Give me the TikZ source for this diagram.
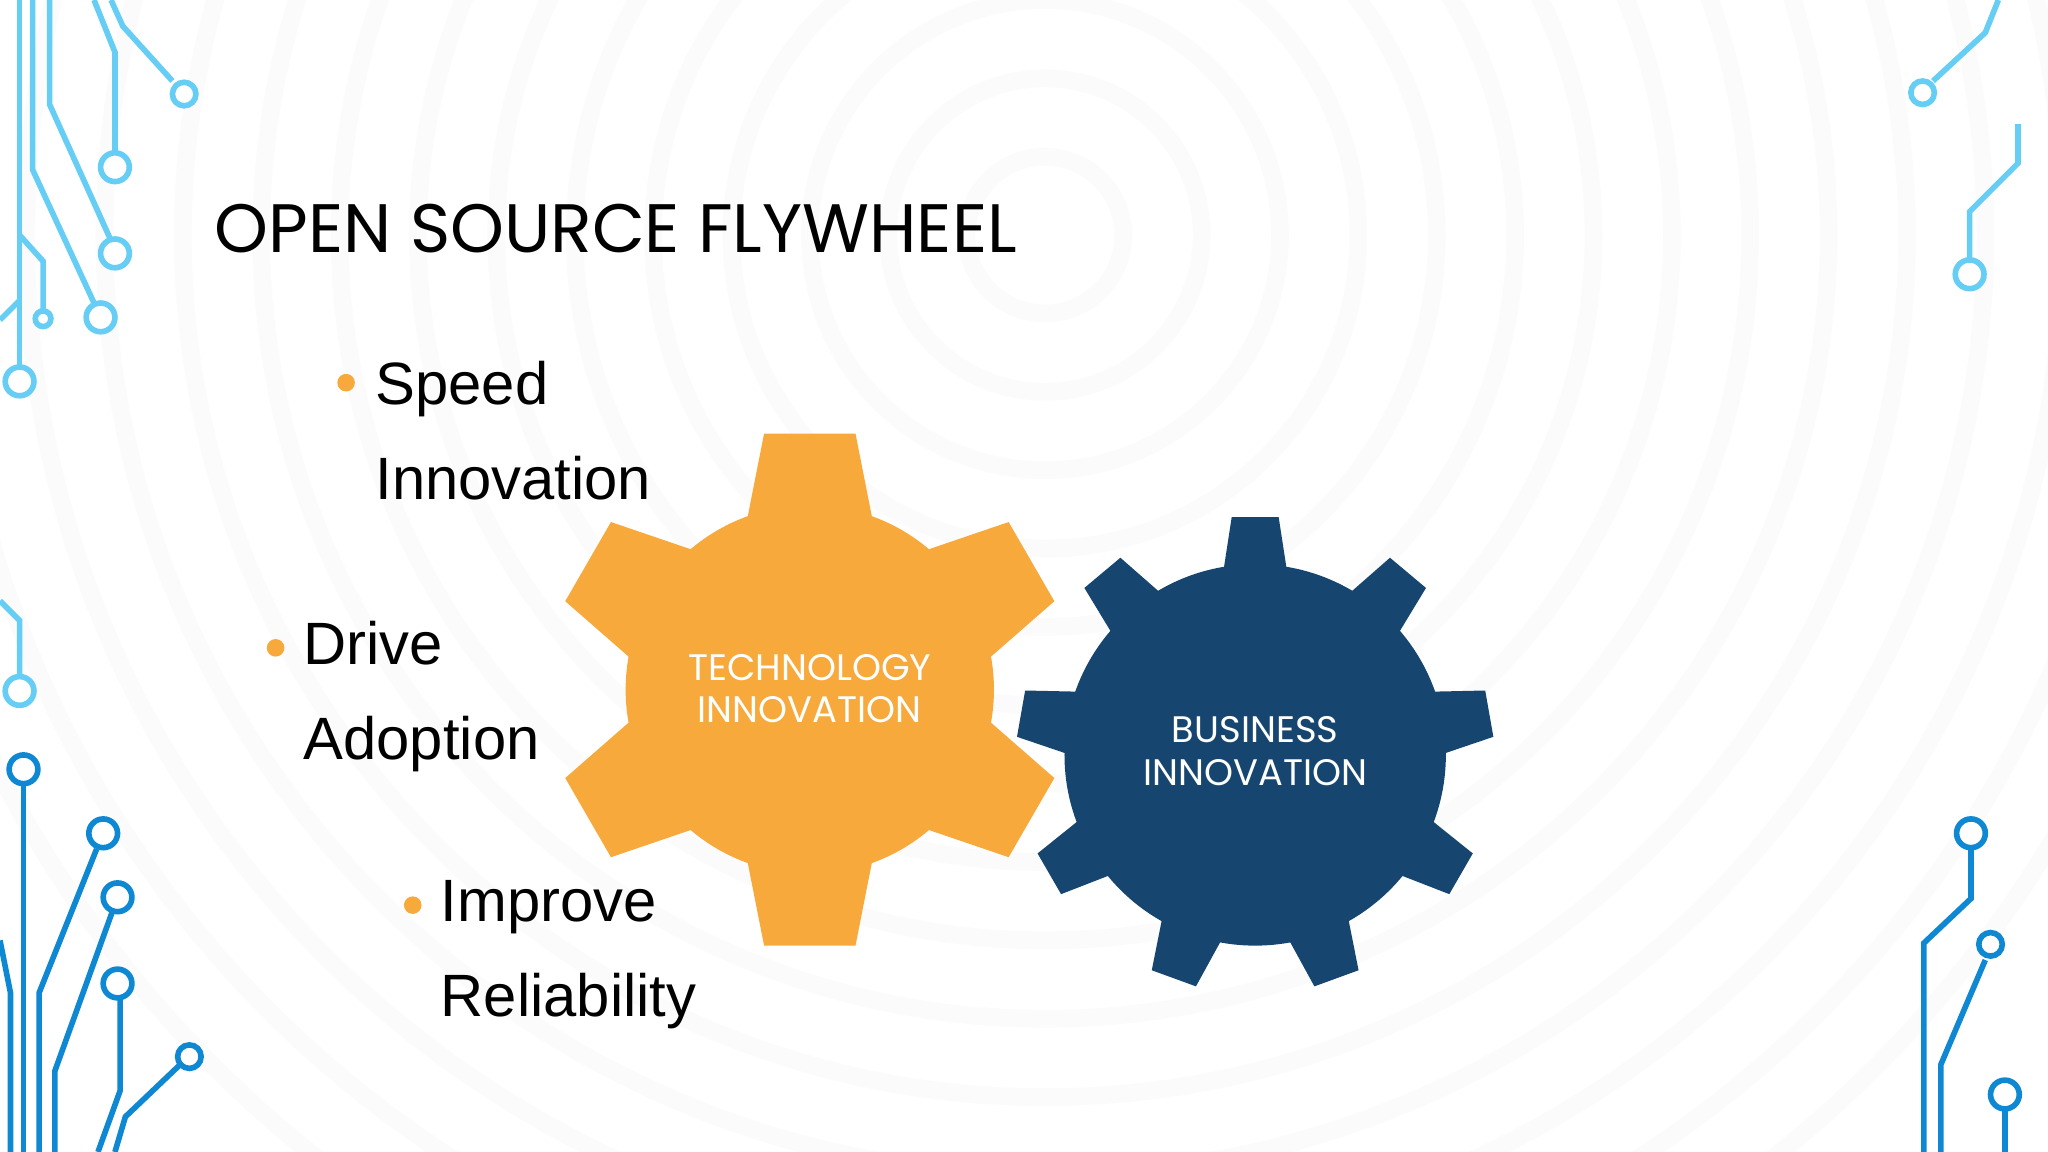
\documentclass[tikz,border=0pt]{standalone}
\usepackage{fontspec}
\setmainfont{Liberation Sans}
\newfontfamily\titlefont{Poppins}
\definecolor{gorange}{HTML}{F8A93B}
\definecolor{gblue}{HTML}{16466F}
\begin{document}
\begin{tikzpicture}[x=0.01306cm,y=-0.01306cm,
 circ/.style={line width=1.6pt},
 pad/.style={circ,fill=white},
 bul/.style={anchor=west,font=\fontsize{17}{27}\selectfont,align=left,text width=4.5cm},
 dotb/.style={circle,fill=gorange,inner sep=0pt,minimum size=5pt}]
\useasboundingbox (0,0) rectangle (1568,882);
\fill[white] (0,0) rectangle (1568,882);
\foreach \r in {60,120,...,900}{\draw[black!1.5,line width=5pt] (800,180) circle (\r);}
% circuit left top
\begin{scope}[color=cyan!60]
\draw[circ] (15,0)--(15,280); \draw[pad] (15,292) circle (11);
\draw[circ] (25,0)--(25,130)--(72,232); \draw[pad] (77,243) circle (11);
\draw[circ] (38,0)--(38,80)--(84,182); \draw[pad] (88,194) circle (11);
\draw[circ] (72,0)--(88,40)--(88,116); \draw[pad] (88,128) circle (11);
\draw[circ] (85,0)--(94,20)--(132,62); \draw[pad] (141,72) circle (9);
\draw[circ] (15,180)--(33,200)--(33,238); \draw[pad] (33,244) circle (6);
\draw[circ] (0,245)--(15,230);
\draw[circ] (0,460)--(15,475)--(15,517); \draw[pad] (15,529) circle (11);
\end{scope}
\begin{scope}[color=cyan!70!blue]
\draw[circ] (18,600)--(18,882); \draw[pad] (18,589) circle (11);
\draw[circ] (0,720)--(8,760)--(8,882);
\draw[circ] (30,882)--(30,760)--(74,650); \draw[pad] (79,638) circle (11);
\draw[circ] (42,882)--(42,820)--(86,698); \draw[pad] (90,687) circle (11);
\draw[circ] (75,882)--(92,835)--(92,764); \draw[pad] (90,753) circle (11);
\draw[circ] (88,882)--(96,855)--(138,815); \draw[pad] (145,809) circle (9);
\end{scope}
% right circuits
\begin{scope}[color=cyan!60]
\draw[circ] (1530,0)--(1520,25)--(1480,62); \draw[pad] (1472,71) circle (9);
\draw[circ] (1545,95)--(1545,125)--(1508,162)--(1508,198); \draw[pad] (1508,210) circle (11);
\end{scope}
\begin{scope}[color=cyan!70!blue]
\draw[circ] (1509,650)--(1509,688)--(1473,722)--(1473,882); \draw[pad] (1509,638) circle (11);
\draw[circ] (1486,882)--(1486,815)--(1520,735); \draw[pad] (1524,723) circle (9);
\draw[circ] (1535,850)--(1535,882); \draw[pad] (1535,838) circle (11);
\end{scope}
% title
\node[anchor=west,font=\titlefont\fontsize{19.5}{24}\selectfont] (title) at (155,175) {OPEN SOURCE FLYWHEEL};
% bullets
\node[dotb] (d1) at (265,293) {};
\node[bul] (b1) at (278,330) {Speed\\Innovation};
\node[dotb] (d2) at (211,496) {};
\node[bul] (b2) at (223,533) {Drive\\Adoption};
\node[dotb] (d3) at (316,693) {};
\node[bul] (b3) at (328,731) {Improve\\Reliability};
% orange gear
\begin{scope}[shift={(620,528)}]
\fill[gorange] (0,0) circle (141);
\foreach \a in {30,90,...,330}{
 \fill[gorange,rotate=\a] (120,-50)--(196,-35)--(196,35)--(120,50)--cycle;}
\end{scope}
\node[font=\titlefont\fontsize{10.5}{12}\selectfont,text=white,align=center] (g1) at (620,527) {TECHNOLOGY\\INNOVATION};
% blue gear
\begin{scope}[shift={(961,578)}]
\fill[gblue] (0,0) circle (146);
\foreach \a in {90,130,...,410}{
 \fill[gblue,rotate=\a] (130,-26)--(182,-18)--(182,18)--(130,26)--cycle;}
\end{scope}
\node[font=\titlefont\fontsize{10.5}{12}\selectfont,text=white,align=center] (g2) at (961,575) {BUSINESS\\INNOVATION};
\end{tikzpicture}
\end{document}
